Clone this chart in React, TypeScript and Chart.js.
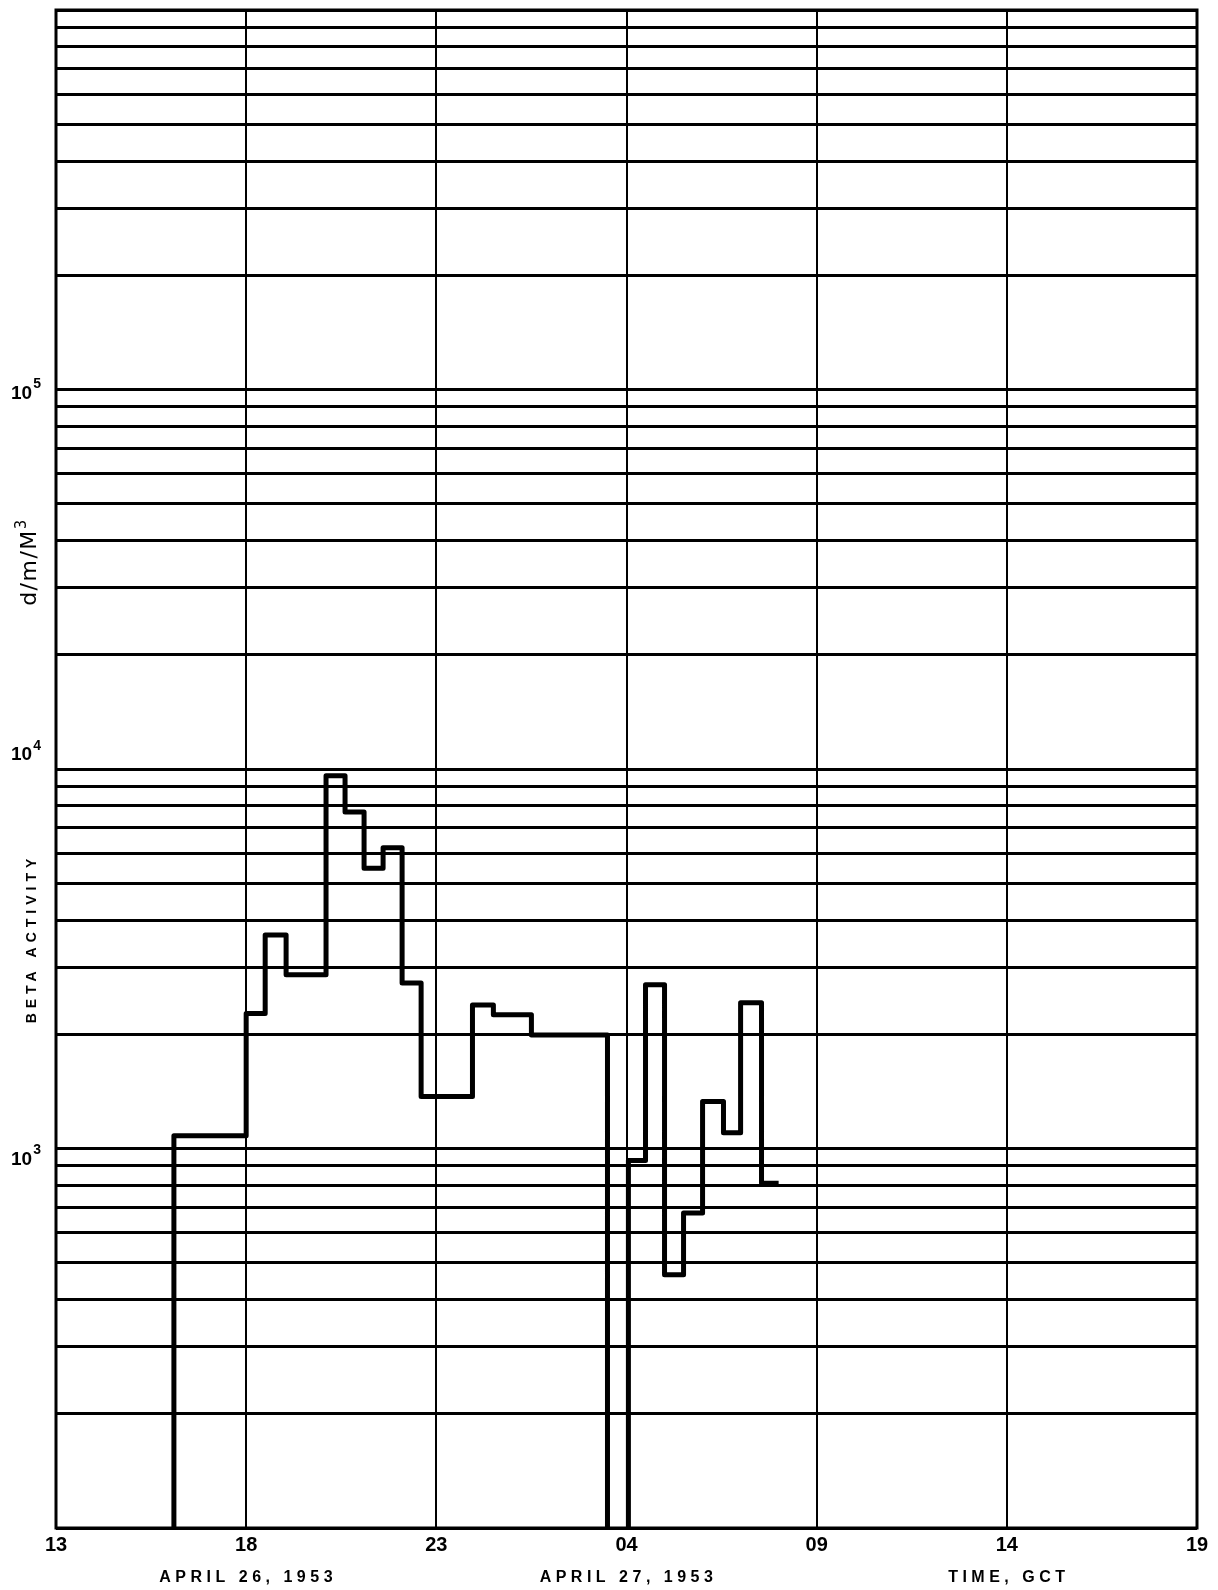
import { useEffect, useRef } from 'react';
import { Chart, registerables } from 'chart.js';

Chart.register(...registerables);

// Time in hours counted from 00 GCT on April 26, 1953 (so 28 = 04 GCT on April 27).
// Each reading holds until the next time in the list.
const stepHours = [16.1, 16.1, 18.0, 18.5, 19.05, 20.1, 20.6, 21.1, 21.6, 22.1, 22.6, 23.95, 24.5, 25.5, 27.5, 28.05, 28.5, 29.0, 29.5, 30.0, 30.55, 31.0, 31.55, 32.0];
// Beta activity in d/m/M^3; readings of 1 lie below the plotted range, so the trace drops off the grid.
const betaActivity = [1, 1080, 2270, 3650, 2870, 9600, 7700, 5480, 6200, 2730, 1370, 2390, 2250, 1990, 1, 930, 2700, 465, 676, 1330, 1100, 2420, 810, 810];

// Axis ticks
const hourTicks = [13, 18, 23, 28, 33, 38, 43];
const decadeExponents = [2, 3, 4, 5];
const labelledDecades = [1000, 10000, 100000];
const labelledExponents = ['3', '4', '5'];

// Captions under the time axis
const dateCaptions = ['APRIL 26, 1953', 'APRIL 27, 1953', 'TIME, GCT'];
const dateCaptionHours = [18, 28, 38];

const yTitle = 'd/m/M';
const yTitleSup = '3';
const ySubTitle = 'BETA ACTIVITY';

const Y_MIN = 100;
const Y_MAX = 1000000;
const X_MIN = 13;
const X_MAX = 43;

// 1..9 x 10^n grid lines across the log axis
function logGridValues(): number[] {
  const out: number[] = [];
  for (const e of decadeExponents) {
    for (let m = 1; m <= 9; m++) out.push(m * Math.pow(10, e));
  }
  out.push(Y_MAX);
  return out;
}

const LABEL_SANS = '"Liberation Sans", Arial, sans-serif';

// nudge of each "10^n" label relative to its grid line (px)
const decadeLabelShift = [11, -14, 4];

const decorations = {
  id: 'decorations',
  afterDraw(chart: any) {
    const { ctx, chartArea, scales } = chart;
    const yScale = scales.y;
    const xScale = scales.x;
    ctx.save();

    // plot frame
    ctx.strokeStyle = '#000';
    ctx.lineWidth = 3;
    ctx.strokeRect(chartArea.left, chartArea.top, chartArea.right - chartArea.left, chartArea.bottom - chartArea.top);

    ctx.fillStyle = '#000';

    // decade labels 10^3, 10^4, 10^5
    labelledDecades.forEach((v, i) => {
      const y = yScale.getPixelForValue(v) + decadeLabelShift[i];
      ctx.font = `bold 19px ${LABEL_SANS}`;
      ctx.textAlign = 'left';
      ctx.textBaseline = 'middle';
      ctx.fillText('10', 11, y);
      const w = ctx.measureText('10').width;
      ctx.font = `bold 14px ${LABEL_SANS}`;
      ctx.fillText(labelledExponents[i], 11 + w + 1, y - 9);
    });

    // date / time captions
    ctx.font = `bold 16px ${LABEL_SANS}`;
    ctx.textAlign = 'center';
    ctx.textBaseline = 'middle';
    (ctx as any).letterSpacing = '4.5px';
    dateCaptions.forEach((txt, i) => {
      const x = xScale.getPixelForValue(dateCaptionHours[i]);
      ctx.fillText(txt, x + 2, chartArea.bottom + 50);
    });

    // rotated y-axis titles
    ctx.save();
    ctx.translate(36, 941);
    ctx.rotate(-Math.PI / 2);
    ctx.font = `bold 14px ${LABEL_SANS}`;
    (ctx as any).letterSpacing = '5px';
    ctx.textAlign = 'center';
    ctx.textBaseline = 'alphabetic';
    ctx.fillText(ySubTitle, 2.5, 0);
    ctx.restore();

    ctx.save();
    (ctx as any).letterSpacing = '1.5px';
    ctx.translate(36, 562);
    ctx.rotate(-Math.PI / 2);
    ctx.font = '22px "DejaVu Sans", sans-serif';
    const mainW = ctx.measureText(yTitle).width;
    ctx.font = '15px "DejaVu Sans", sans-serif';
    const supW = ctx.measureText(yTitleSup).width;
    const start = -(mainW + supW) / 2;
    ctx.textAlign = 'left';
    ctx.textBaseline = 'alphabetic';
    ctx.font = '22px "DejaVu Sans", sans-serif';
    ctx.fillText(yTitle, start, 0);
    ctx.font = '15px "DejaVu Sans", sans-serif';
    ctx.fillText(yTitleSup, start + mainW, -10);
    ctx.restore();

    ctx.restore();
  },
};

export default function App() {
  const canvasRef = useRef<HTMLCanvasElement>(null);

  useEffect(() => {
    const canvas = canvasRef.current;
    if (!canvas) return;
    const chart = new Chart(canvas, {
      type: 'line',
      data: {
        datasets: [
          {
            data: stepHours.map((h, i) => ({ x: h, y: betaActivity[i] })),
            // hold each reading until the next time, then step
            stepped: 'before',
            borderColor: '#000',
            borderWidth: 5,
            borderJoinStyle: 'round',
            pointRadius: 0,
            fill: false,
          },
        ],
      },
      options: {
        animation: false,
        responsive: false,
        devicePixelRatio: 1,
        layout: { padding: { top: 10, right: 21, left: 0, bottom: 0 } },
        plugins: { legend: { display: false }, tooltip: { enabled: false } },
        scales: {
          x: {
            type: 'linear',
            min: X_MIN,
            max: X_MAX,
            afterBuildTicks: (scale: any) => {
              scale.ticks = hourTicks.map((v) => ({ value: v }));
            },
            ticks: {
              autoSkip: false,
              maxRotation: 0,
              padding: 5,
              color: '#000',
              font: { family: LABEL_SANS, weight: 'bold', size: 20 },
              callback: (v: any) => String(Number(v) % 24).padStart(2, '0'),
            },
            grid: { color: '#000', lineWidth: 2, drawTicks: false },
            border: { display: false },
            afterFit: (scale: any) => {
              scale.height = 62;
            },
          },
          y: {
            type: 'logarithmic',
            min: Y_MIN,
            max: Y_MAX,
            afterBuildTicks: (scale: any) => {
              scale.ticks = logGridValues().map((v) => ({ value: v }));
            },
            ticks: { display: false },
            grid: { color: '#000', lineWidth: 3, drawTicks: false },
            border: { display: false },
            afterFit: (scale: any) => {
              scale.width = 56;
            },
          },
        },
      },
      plugins: [decorations],
    } as any);
    return () => chart.destroy();
  }, []);

  return (
    <div style={{ position: 'absolute', left: 0, top: 0, width: 1218, height: 1590, background: '#fff', overflow: 'hidden' }}>
      <canvas ref={canvasRef} width={1218} height={1590} style={{ display: 'block' }} />
    </div>
  );
}
